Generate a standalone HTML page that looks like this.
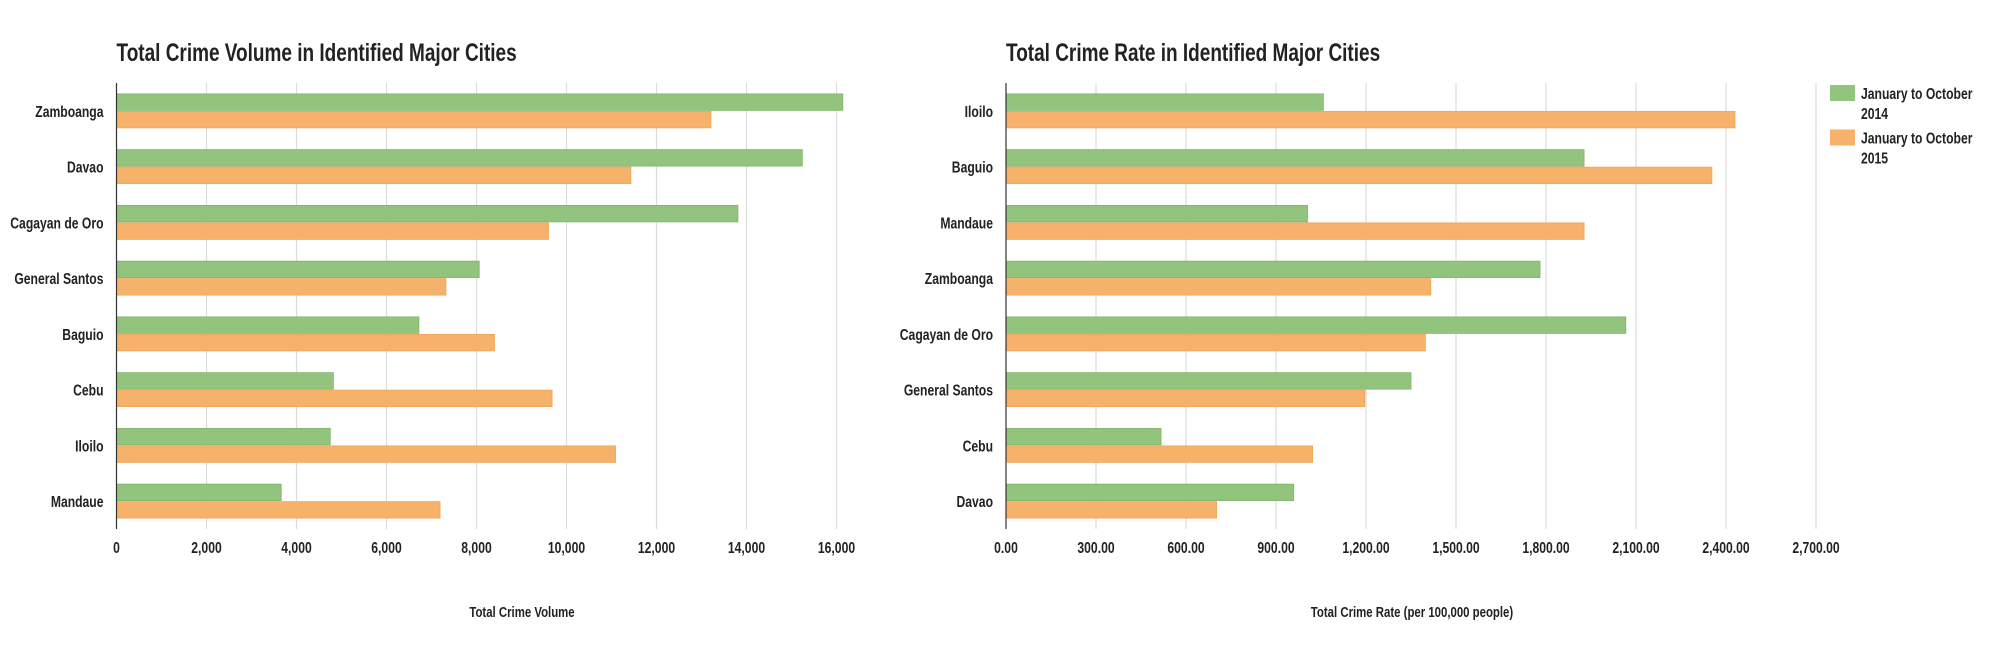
<!DOCTYPE html>
<html><head><meta charset="utf-8">
<style>
html,body{margin:0;padding:0;background:#fff;width:2000px;height:667px;overflow:hidden}
svg{display:block}
text{font-family:"Liberation Sans",sans-serif;font-weight:bold;fill:#222}
</style></head>
<body>
<svg id="chart" width="2000" height="667" viewBox="0 0 2000 667"></svg>
<script>
const leftCategories = ["Zamboanga","Davao","Cagayan de Oro","General Santos","Baguio","Cebu","Iloilo","Mandaue"];
const leftSeries2014 = [16140,15240,13810,8060,6720,4820,4750,3660];
const leftSeries2015 = [13210,11430,9600,7320,8400,9680,11090,7190];
const leftTicks = [0,2000,4000,6000,8000,10000,12000,14000,16000];
const leftTickLabels = ["0","2,000","4,000","6,000","8,000","10,000","12,000","14,000","16,000"];

const rightCategories = ["Iloilo","Baguio","Mandaue","Zamboanga","Cagayan de Oro","General Santos","Cebu","Davao"];
const rightSeries2014 = [1058,1927,1005,1780,2066,1350,517,959];
const rightSeries2015 = [2430,2353,1927,1416,1398,1196,1022,702];
const rightTicks = [0,300,600,900,1200,1500,1800,2100,2400,2700];
const rightTickLabels = ["0.00","300.00","600.00","900.00","1,200.00","1,500.00","1,800.00","2,100.00","2,400.00","2,700.00"];

const seriesNames = ["January to October 2014","January to October 2015"];
const NS = "http://www.w3.org/2000/svg";
const svg = document.getElementById("chart");
const SX = 0.76;
function mk(tag, attrs, parent){const e=document.createElementNS(NS,tag);for(const k in attrs)e.setAttribute(k,attrs[k]);(parent||svg).appendChild(e);return e;}
function txt(x,y,size,anchor,str,parent){
  const e=mk("text",{x:0,y:0,"font-size":size,"text-anchor":anchor,transform:"translate("+x+","+y+") scale("+SX+",1)"},parent);
  e.textContent=str;return e;
}

function drawChart(o){
  const g = mk("g",{});
  
  
  const top=83,bottom=529,x0=o.x0;
  const xs = v => x0 + (v - 0) * o.pxPerUnit;
  const band = (bottom-top)/o.cats.length;
  const t = txt(x0,61,25,"start",o.title,g);
  
  
  o.ticks.forEach((v,i)=>{
    if(i>0){const gl=mk("line",{x1:xs(v),x2:xs(v),y1:top,y2:bottom,stroke:"#dcdcdc","stroke-width":1.2},g);
      
      }
    const tl=txt(xs(v),553,16,"middle",o.tickLabels[i],g);
    
    
  });
  o.cats.forEach((c,i)=>{
    const cy = top + band*i + band/2;
    const lab=txt(x0-13,cy+6,16,"end",c,g);
    
    
    const b1=mk("rect",{x:x0,y:cy-17,width:xs(o.s1[i])-x0,height:16.5,fill:"#93c47d",stroke:"#7fb56a","stroke-width":0.8},g);
    
    
    const b2=mk("rect",{x:x0,y:cy+0.5,width:xs(o.s2[i])-x0,height:16.5,fill:"#f6b26b",stroke:"#eda55c","stroke-width":0.8},g);
    
    
  });
  const ax=mk("line",{x1:x0,x2:x0,y1:top,y2:bottom,stroke:"#333","stroke-width":1.2},g);
  
  
  const at=txt(o.titleX,617,15,"middle",o.axisTitle,g);
  
  
}
drawChart({name:"crime-volume-chart",x0:116.5,pxPerUnit:90/2000,cats:leftCategories,s1:leftSeries2014,s2:leftSeries2015,ticks:leftTicks,tickLabels:leftTickLabels,title:"Total Crime Volume in Identified Major Cities",axisTitle:"Total Crime Volume",titleX:522});
drawChart({name:"crime-rate-chart",x0:1006,pxPerUnit:90/300,cats:rightCategories,s1:rightSeries2014,s2:rightSeries2015,ticks:rightTicks,tickLabels:rightTickLabels,title:"Total Crime Rate in Identified Major Cities",axisTitle:"Total Crime Rate (per 100,000 people)",titleX:1412});

const lg = mk("g",{});


const colors=["#93c47d","#f6b26b"];
[0,1].forEach(i=>{
  const y0 = 85 + i*44.5;
  const sw=mk("rect",{x:1830,y:y0,width:25,height:16,fill:colors[i]},lg);
  
  
  const words=seriesNames[i].split(" ");
  const t1=txt(1861,y0+14,16,"start",words.slice(0,3).join(" "),lg);
  
  
  const t2=txt(1861,y0+34,16,"start",words.slice(3).join(" "),lg);
  
  
});
</script>
</body></html>
